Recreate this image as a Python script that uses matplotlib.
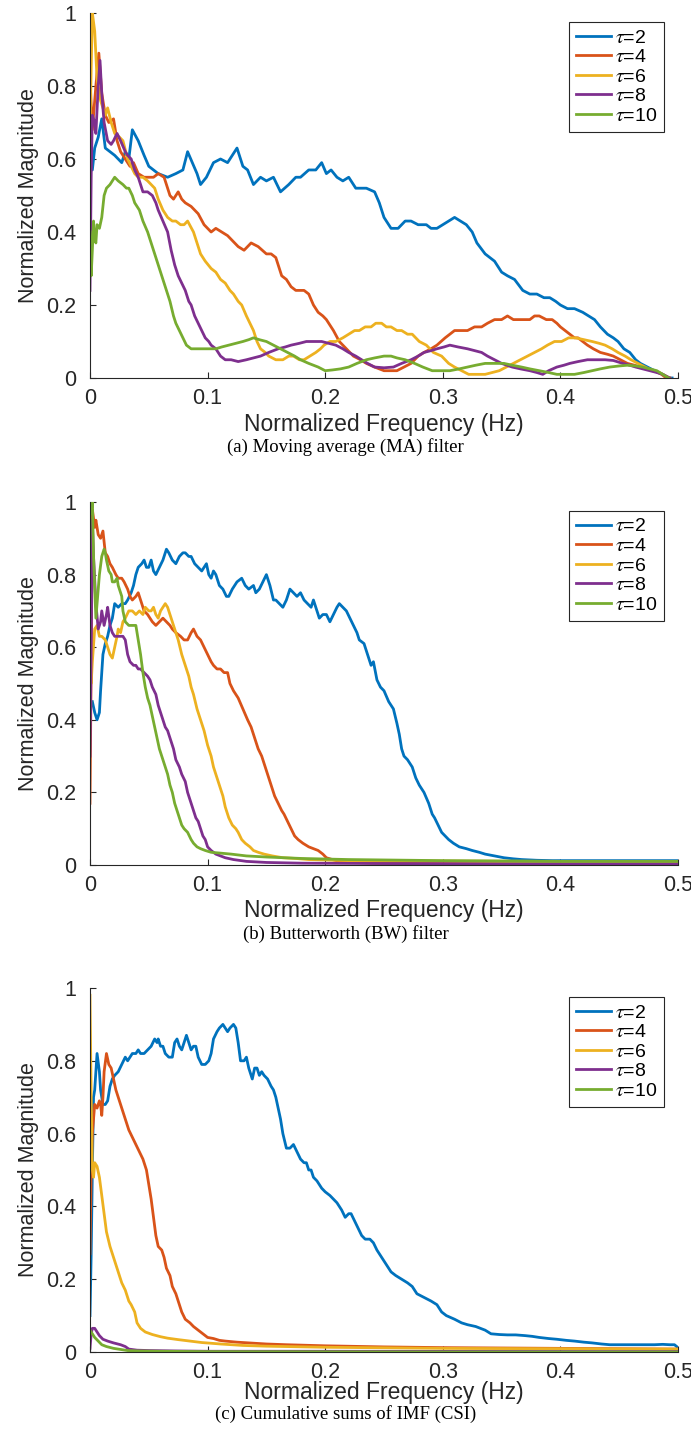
import matplotlib as mpl
import matplotlib.pyplot as plt
from matplotlib.ticker import FuncFormatter, MultipleLocator

mpl.use('Agg')
plt.rcParams.update({
    'font.family': 'Liberation Sans',
    'mathtext.fontset': 'stix',
    'axes.edgecolor': '#262626',
    'xtick.color': '#262626',
    'ytick.color': '#262626',
})

# MATLAB default line colours, one per tau
colors = ["#0072BD", "#D95319", "#EDB120", "#7E2F8E", "#77AC30"]
taus = [2, 4, 6, 8, 10]

# (a) moving average filter: (frequency, magnitude) pairs
ma_t2 = [(0, 0.74), (0.002, 0.57), (0.004, 0.63), (0.007, 0.66), (0.010, 0.71), (0.013, 0.63), (0.017, 0.62),
         (0.021, 0.61), (0.024, 0.60), (0.027, 0.59), (0.030, 0.62), (0.033, 0.60), (0.036, 0.68), (0.041, 0.65),
         (0.046, 0.61), (0.050, 0.58), (0.058, 0.56), (0.066, 0.55), (0.073, 0.56), (0.079, 0.57), (0.083, 0.62),
         (0.087, 0.59), (0.091, 0.56), (0.094, 0.53), (0.099, 0.55), (0.105, 0.59), (0.111, 0.60), (0.117, 0.59),
         (0.121, 0.61), (0.125, 0.63), (0.130, 0.58), (0.134, 0.57), (0.139, 0.53), (0.145, 0.55), (0.150, 0.54),
         (0.156, 0.55), (0.162, 0.51), (0.169, 0.53), (0.175, 0.55), (0.179, 0.55), (0.186, 0.57), (0.192, 0.57),
         (0.197, 0.59), (0.201, 0.56), (0.205, 0.57), (0.210, 0.55), (0.215, 0.54), (0.220, 0.55), (0.226, 0.52),
         (0.231, 0.52), (0.235, 0.52), (0.242, 0.51), (0.246, 0.48), (0.250, 0.44), (0.256, 0.41), (0.262, 0.41),
         (0.268, 0.43), (0.273, 0.43), (0.279, 0.42), (0.286, 0.42), (0.290, 0.41), (0.295, 0.41), (0.300, 0.42),
         (0.305, 0.43), (0.310, 0.44), (0.315, 0.43), (0.320, 0.42), (0.325, 0.40), (0.329, 0.37), (0.336, 0.34),
         (0.344, 0.32), (0.350, 0.29), (0.355, 0.28), (0.361, 0.27), (0.368, 0.24), (0.374, 0.23), (0.380, 0.23),
         (0.386, 0.22), (0.391, 0.22), (0.396, 0.21), (0.400, 0.20), (0.406, 0.19), (0.412, 0.19), (0.419, 0.18),
         (0.424, 0.17), (0.429, 0.16), (0.434, 0.14), (0.440, 0.12), (0.445, 0.11), (0.449, 0.10), (0.454, 0.08),
         (0.459, 0.07), (0.464, 0.05), (0.468, 0.04), (0.474, 0.03), (0.480, 0.02), (0.487, 0.01), (0.492, 0.0),
         (0.495, 0.0)]
ma_t4 = [(0, 0.82), (0.002, 0.68), (0.005, 0.80), (0.0075, 0.89), (0.010, 0.78), (0.013, 0.72), (0.016, 0.70),
         (0.020, 0.71), (0.023, 0.65), (0.026, 0.62), (0.030, 0.60), (0.034, 0.58), (0.037, 0.59), (0.041, 0.56),
         (0.046, 0.55), (0.050, 0.55), (0.054, 0.55), (0.058, 0.56), (0.063, 0.55), (0.068, 0.50), (0.071, 0.49),
         (0.075, 0.51), (0.078, 0.49), (0.081, 0.48), (0.086, 0.47), (0.092, 0.45), (0.097, 0.42), (0.103, 0.40),
         (0.107, 0.41), (0.112, 0.40), (0.117, 0.39), (0.120, 0.38), (0.126, 0.36), (0.131, 0.35), (0.137, 0.37),
         (0.143, 0.36), (0.150, 0.34), (0.154, 0.34), (0.158, 0.33), (0.163, 0.28), (0.167, 0.27), (0.171, 0.25),
         (0.175, 0.24), (0.182, 0.24), (0.186, 0.23), (0.190, 0.20), (0.194, 0.18), (0.198, 0.17), (0.201, 0.16),
         (0.207, 0.13), (0.212, 0.10), (0.218, 0.08), (0.224, 0.06), (0.230, 0.05), (0.235, 0.04), (0.242, 0.03),
         (0.250, 0.02), (0.256, 0.02), (0.261, 0.02), (0.267, 0.03), (0.273, 0.04), (0.279, 0.06), (0.284, 0.07),
         (0.290, 0.08), (0.295, 0.09), (0.302, 0.11), (0.310, 0.13), (0.316, 0.13), (0.321, 0.13), (0.327, 0.14),
         (0.333, 0.14), (0.338, 0.15), (0.344, 0.16), (0.350, 0.16), (0.355, 0.17), (0.360, 0.16), (0.365, 0.16),
         (0.370, 0.16), (0.374, 0.16), (0.378, 0.17), (0.382, 0.17), (0.388, 0.16), (0.393, 0.16), (0.397, 0.15),
         (0.400, 0.14), (0.404, 0.13), (0.408, 0.12), (0.412, 0.11), (0.415, 0.11), (0.419, 0.10), (0.423, 0.09),
         (0.428, 0.08), (0.434, 0.07), (0.440, 0.065), (0.445, 0.06), (0.451, 0.05), (0.457, 0.04), (0.463, 0.035),
         (0.468, 0.03), (0.474, 0.025), (0.480, 0.02), (0.486, 0.01), (0.490, 0.0), (0.493, 0.0)]
ma_t6 = [(0, 0.67), (0.001, 0.85), (0.002, 1.0), (0.004, 0.95), (0.006, 0.82), (0.009, 0.76), (0.013, 0.72),
         (0.015, 0.74), (0.018, 0.70), (0.021, 0.67), (0.025, 0.66), (0.028, 0.65), (0.032, 0.60), (0.035, 0.58),
         (0.038, 0.56), (0.041, 0.55), (0.045, 0.55), (0.049, 0.54), (0.055, 0.52), (0.058, 0.49), (0.062, 0.46),
         (0.066, 0.44), (0.070, 0.43), (0.073, 0.43), (0.077, 0.42), (0.080, 0.42), (0.083, 0.43), (0.088, 0.40),
         (0.091, 0.37), (0.094, 0.34), (0.098, 0.32), (0.103, 0.30), (0.107, 0.29), (0.111, 0.27), (0.115, 0.26),
         (0.119, 0.24), (0.122, 0.23), (0.126, 0.21), (0.129, 0.20), (0.133, 0.17), (0.136, 0.15), (0.139, 0.13),
         (0.142, 0.10), (0.145, 0.08), (0.149, 0.07), (0.152, 0.06), (0.158, 0.05), (0.164, 0.05), (0.169, 0.06),
         (0.173, 0.06), (0.178, 0.05), (0.182, 0.05), (0.187, 0.06), (0.192, 0.07), (0.196, 0.08), (0.199, 0.09),
         (0.204, 0.10), (0.209, 0.10), (0.215, 0.11), (0.220, 0.12), (0.225, 0.13), (0.229, 0.13), (0.234, 0.14),
         (0.239, 0.14), (0.243, 0.15), (0.248, 0.15), (0.252, 0.14), (0.256, 0.14), (0.261, 0.13), (0.265, 0.13),
         (0.270, 0.12), (0.274, 0.12), (0.280, 0.10), (0.286, 0.09), (0.292, 0.07), (0.299, 0.06), (0.305, 0.04),
         (0.310, 0.03), (0.316, 0.02), (0.322, 0.01), (0.330, 0.01), (0.336, 0.01), (0.342, 0.015), (0.348, 0.02),
         (0.354, 0.03), (0.360, 0.04), (0.366, 0.05), (0.372, 0.06), (0.378, 0.07), (0.384, 0.08), (0.389, 0.09),
         (0.395, 0.10), (0.401, 0.10), (0.407, 0.11), (0.413, 0.11), (0.420, 0.105), (0.427, 0.10), (0.433, 0.095),
         (0.438, 0.09), (0.444, 0.08), (0.449, 0.07), (0.455, 0.06), (0.460, 0.05), (0.466, 0.04), (0.472, 0.03),
         (0.478, 0.02), (0.484, 0.015), (0.490, 0.005), (0.493, 0.0)]
ma_t8 = [(0, 0.24), (0.001, 0.55), (0.002, 0.72), (0.004, 0.70), (0.005, 0.67), (0.007, 0.80), (0.0085, 0.87),
         (0.010, 0.78), (0.012, 0.70), (0.015, 0.65), (0.018, 0.64), (0.020, 0.65), (0.023, 0.67), (0.026, 0.65),
         (0.030, 0.62), (0.032, 0.61), (0.035, 0.60), (0.038, 0.57), (0.041, 0.55), (0.045, 0.51), (0.049, 0.51),
         (0.053, 0.50), (0.056, 0.48), (0.058, 0.46), (0.062, 0.43), (0.066, 0.40), (0.069, 0.35), (0.072, 0.31),
         (0.075, 0.28), (0.078, 0.26), (0.081, 0.24), (0.084, 0.21), (0.086, 0.20), (0.089, 0.17), (0.092, 0.15),
         (0.095, 0.13), (0.098, 0.11), (0.101, 0.10), (0.103, 0.09), (0.107, 0.08), (0.111, 0.06), (0.115, 0.05),
         (0.120, 0.05), (0.126, 0.045), (0.133, 0.05), (0.139, 0.055), (0.145, 0.06), (0.152, 0.07), (0.160, 0.08),
         (0.166, 0.085), (0.171, 0.09), (0.178, 0.095), (0.184, 0.10), (0.190, 0.10), (0.197, 0.10), (0.203, 0.095),
         (0.209, 0.09), (0.215, 0.08), (0.220, 0.07), (0.226, 0.06), (0.231, 0.05), (0.236, 0.04), (0.242, 0.03),
         (0.250, 0.028), (0.258, 0.03), (0.265, 0.04), (0.273, 0.05), (0.279, 0.06), (0.284, 0.07), (0.290, 0.075),
         (0.295, 0.08), (0.301, 0.085), (0.306, 0.09), (0.313, 0.085), (0.321, 0.08), (0.327, 0.075), (0.333, 0.07),
         (0.338, 0.06), (0.344, 0.05), (0.350, 0.04), (0.359, 0.03), (0.366, 0.025), (0.374, 0.02), (0.380, 0.015),
         (0.385, 0.01), (0.390, 0.02), (0.397, 0.03), (0.403, 0.035), (0.408, 0.04), (0.415, 0.045), (0.423, 0.05),
         (0.430, 0.05), (0.438, 0.05), (0.445, 0.048), (0.453, 0.04), (0.459, 0.035), (0.464, 0.03), (0.470, 0.025),
         (0.476, 0.02), (0.482, 0.015), (0.487, 0.01), (0.493, 0.0)]
ma_t10 = [(0, 0.40), (0.001, 0.28), (0.002, 0.35), (0.003, 0.43), (0.004, 0.38), (0.005, 0.37), (0.006, 0.42),
          (0.008, 0.41), (0.010, 0.44), (0.012, 0.50), (0.014, 0.52), (0.017, 0.53), (0.019, 0.54), (0.021, 0.55),
          (0.024, 0.54), (0.028, 0.53), (0.031, 0.52), (0.033, 0.52), (0.036, 0.50), (0.038, 0.48), (0.040, 0.47),
          (0.042, 0.46), (0.045, 0.43), (0.049, 0.40), (0.052, 0.37), (0.055, 0.34), (0.058, 0.31), (0.060, 0.29),
          (0.063, 0.26), (0.066, 0.23), (0.068, 0.21), (0.071, 0.17), (0.073, 0.15), (0.076, 0.13), (0.079, 0.11),
          (0.082, 0.09), (0.086, 0.08), (0.091, 0.08), (0.096, 0.08), (0.101, 0.08), (0.107, 0.08), (0.112, 0.085),
          (0.118, 0.09), (0.124, 0.095), (0.130, 0.10), (0.135, 0.105), (0.139, 0.11), (0.144, 0.105), (0.150, 0.10),
          (0.156, 0.09), (0.162, 0.08), (0.168, 0.07), (0.174, 0.06), (0.179, 0.05), (0.186, 0.04), (0.194, 0.03),
          (0.200, 0.02), (0.206, 0.022), (0.213, 0.025), (0.220, 0.03), (0.227, 0.04), (0.235, 0.05), (0.242, 0.055),
          (0.250, 0.06), (0.256, 0.06), (0.261, 0.055), (0.268, 0.05), (0.276, 0.04), (0.283, 0.03), (0.291, 0.02),
          (0.298, 0.02), (0.306, 0.02), (0.314, 0.025), (0.321, 0.03), (0.328, 0.035), (0.336, 0.04), (0.344, 0.04),
          (0.352, 0.04), (0.359, 0.035), (0.367, 0.03), (0.374, 0.025), (0.382, 0.02), (0.390, 0.015), (0.397, 0.01),
          (0.405, 0.01), (0.412, 0.01), (0.420, 0.015), (0.427, 0.02), (0.434, 0.025), (0.442, 0.03), (0.450, 0.033),
          (0.457, 0.035), (0.464, 0.033), (0.470, 0.03), (0.476, 0.025), (0.482, 0.02), (0.487, 0.01), (0.492, 0.0)]

# (b) Butterworth filter
bw_t2 = [(0.002, 0.45), (0.004, 0.42), (0.006, 0.40), (0.008, 0.42), (0.009, 0.48), (0.011, 0.58), (0.013, 0.61),
         (0.015, 0.63), (0.017, 0.66), (0.019, 0.68), (0.021, 0.72), (0.024, 0.71), (0.027, 0.72), (0.030, 0.72),
         (0.032, 0.73), (0.035, 0.75), (0.037, 0.77), (0.039, 0.80), (0.041, 0.82), (0.044, 0.83), (0.046, 0.84),
         (0.048, 0.82), (0.050, 0.82), (0.052, 0.84), (0.054, 0.81), (0.056, 0.80), (0.059, 0.82), (0.062, 0.84),
         (0.065, 0.87), (0.067, 0.86), (0.070, 0.84), (0.073, 0.83), (0.076, 0.85), (0.079, 0.86), (0.081, 0.86),
         (0.084, 0.85), (0.086, 0.85), (0.089, 0.83), (0.092, 0.82), (0.095, 0.81), (0.097, 0.82), (0.099, 0.83),
         (0.101, 0.80), (0.103, 0.79), (0.105, 0.81), (0.107, 0.80), (0.110, 0.77), (0.113, 0.76), (0.116, 0.74),
         (0.118, 0.74), (0.121, 0.76), (0.125, 0.78), (0.129, 0.79), (0.132, 0.77), (0.135, 0.76), (0.139, 0.77),
         (0.141, 0.75), (0.144, 0.76), (0.147, 0.78), (0.150, 0.80), (0.153, 0.77), (0.156, 0.73), (0.158, 0.73),
         (0.161, 0.72), (0.164, 0.71), (0.167, 0.73), (0.170, 0.76), (0.173, 0.75), (0.176, 0.74), (0.179, 0.75),
         (0.182, 0.73), (0.185, 0.72), (0.188, 0.71), (0.190, 0.73), (0.193, 0.70), (0.195, 0.68), (0.198, 0.69),
         (0.201, 0.69), (0.204, 0.67), (0.207, 0.69), (0.210, 0.71), (0.212, 0.72), (0.215, 0.71), (0.218, 0.70),
         (0.221, 0.68), (0.224, 0.66), (0.227, 0.64), (0.229, 0.62), (0.233, 0.61), (0.236, 0.58), (0.239, 0.55),
         (0.241, 0.56), (0.244, 0.51), (0.247, 0.49), (0.250, 0.48), (0.254, 0.45), (0.258, 0.43), (0.261, 0.39),
         (0.263, 0.36), (0.265, 0.32), (0.267, 0.30), (0.270, 0.29), (0.274, 0.27), (0.277, 0.24), (0.280, 0.22),
         (0.284, 0.20), (0.288, 0.17), (0.291, 0.14), (0.293, 0.13), (0.296, 0.11), (0.299, 0.09), (0.302, 0.08),
         (0.305, 0.07), (0.309, 0.06), (0.314, 0.05), (0.320, 0.045), (0.325, 0.04), (0.331, 0.035), (0.336, 0.03),
         (0.344, 0.025), (0.352, 0.02), (0.360, 0.017), (0.367, 0.015), (0.380, 0.013), (0.393, 0.012),
         (0.420, 0.012), (0.450, 0.012), (0.500, 0.012)]
bw_t4 = [(0, 0.17), (0.001, 0.55), (0.002, 0.98), (0.004, 0.93), (0.005, 0.95), (0.007, 0.91), (0.009, 0.90),
         (0.011, 0.92), (0.013, 0.86), (0.015, 0.85), (0.017, 0.83), (0.019, 0.82), (0.022, 0.80), (0.024, 0.79),
         (0.027, 0.79), (0.029, 0.78), (0.032, 0.76), (0.034, 0.74), (0.036, 0.73), (0.039, 0.74), (0.041, 0.75),
         (0.044, 0.72), (0.046, 0.70), (0.049, 0.69), (0.051, 0.68), (0.053, 0.67), (0.056, 0.66), (0.059, 0.67),
         (0.062, 0.68), (0.065, 0.67), (0.068, 0.66), (0.070, 0.65), (0.073, 0.64), (0.077, 0.63), (0.080, 0.62),
         (0.083, 0.62), (0.086, 0.64), (0.088, 0.65), (0.091, 0.63), (0.094, 0.62), (0.097, 0.60), (0.100, 0.58),
         (0.103, 0.56), (0.105, 0.55), (0.108, 0.54), (0.111, 0.54), (0.114, 0.53), (0.117, 0.53), (0.119, 0.50),
         (0.122, 0.48), (0.126, 0.46), (0.130, 0.43), (0.134, 0.40), (0.137, 0.38), (0.140, 0.35), (0.143, 0.32),
         (0.146, 0.30), (0.148, 0.28), (0.151, 0.25), (0.154, 0.22), (0.157, 0.19), (0.160, 0.17), (0.163, 0.15),
         (0.165, 0.14), (0.168, 0.12), (0.171, 0.10), (0.174, 0.08), (0.177, 0.07), (0.181, 0.06), (0.186, 0.05),
         (0.190, 0.045), (0.194, 0.04), (0.198, 0.03), (0.201, 0.02), (0.206, 0.015), (0.212, 0.01), (0.225, 0.007),
         (0.242, 0.005), (0.300, 0.004), (0.400, 0.003), (0.500, 0.003)]
bw_t6 = [(0, 0.57), (0.001, 0.50), (0.002, 0.56), (0.004, 0.65), (0.006, 0.66), (0.008, 0.63), (0.010, 0.63),
         (0.013, 0.62), (0.015, 0.60), (0.017, 0.58), (0.019, 0.57), (0.021, 0.60), (0.023, 0.63), (0.024, 0.65),
         (0.026, 0.64), (0.028, 0.67), (0.030, 0.68), (0.033, 0.70), (0.036, 0.70), (0.039, 0.69), (0.042, 0.70),
         (0.045, 0.69), (0.047, 0.71), (0.050, 0.70), (0.052, 0.70), (0.054, 0.71), (0.056, 0.69), (0.058, 0.68),
         (0.060, 0.70), (0.062, 0.71), (0.064, 0.72), (0.066, 0.71), (0.068, 0.69), (0.070, 0.67), (0.072, 0.65),
         (0.075, 0.62), (0.078, 0.58), (0.081, 0.55), (0.084, 0.52), (0.086, 0.49), (0.088, 0.47), (0.091, 0.43),
         (0.094, 0.40), (0.097, 0.37), (0.100, 0.33), (0.103, 0.30), (0.105, 0.27), (0.107, 0.25), (0.110, 0.22),
         (0.113, 0.19), (0.115, 0.16), (0.118, 0.13), (0.121, 0.11), (0.124, 0.10), (0.126, 0.09), (0.129, 0.07),
         (0.132, 0.06), (0.136, 0.05), (0.139, 0.04), (0.143, 0.035), (0.148, 0.03), (0.155, 0.025), (0.164, 0.02),
         (0.175, 0.018), (0.186, 0.015), (0.220, 0.012), (0.300, 0.011), (0.400, 0.01), (0.500, 0.01)]
bw_t8 = [(0, 0.30), (0.001, 0.60), (0.002, 0.95), (0.003, 0.85), (0.005, 0.72), (0.007, 0.65), (0.009, 0.67),
         (0.010, 0.70), (0.012, 0.66), (0.014, 0.69), (0.015, 0.71), (0.017, 0.66), (0.019, 0.64), (0.021, 0.63),
         (0.023, 0.63), (0.026, 0.63), (0.028, 0.63), (0.030, 0.62), (0.032, 0.58), (0.034, 0.56), (0.037, 0.55),
         (0.039, 0.55), (0.041, 0.54), (0.043, 0.54), (0.046, 0.53), (0.049, 0.52), (0.051, 0.51), (0.053, 0.49),
         (0.056, 0.47), (0.058, 0.44), (0.060, 0.42), (0.062, 0.40), (0.064, 0.38), (0.066, 0.37), (0.068, 0.35),
         (0.071, 0.32), (0.073, 0.29), (0.076, 0.27), (0.078, 0.25), (0.081, 0.23), (0.083, 0.20), (0.086, 0.17),
         (0.088, 0.15), (0.090, 0.13), (0.092, 0.12), (0.094, 0.10), (0.096, 0.08), (0.098, 0.07), (0.100, 0.05),
         (0.103, 0.04), (0.107, 0.03), (0.111, 0.025), (0.115, 0.02), (0.122, 0.015), (0.133, 0.01),
         (0.150, 0.007), (0.180, 0.005), (0.250, 0.004), (0.350, 0.003), (0.500, 0.003)]
bw_t10 = [(0.001, 0.97), (0.002, 1.0), (0.003, 0.85), (0.005, 0.68), (0.007, 0.76), (0.008, 0.80), (0.010, 0.85),
          (0.012, 0.87), (0.013, 0.86), (0.014, 0.84), (0.016, 0.81), (0.018, 0.80), (0.019, 0.78), (0.021, 0.78),
          (0.023, 0.79), (0.024, 0.77), (0.026, 0.75), (0.027, 0.74), (0.028, 0.70), (0.030, 0.67), (0.033, 0.66),
          (0.036, 0.66), (0.039, 0.66), (0.041, 0.62), (0.043, 0.58), (0.045, 0.53), (0.047, 0.49), (0.049, 0.46),
          (0.051, 0.44), (0.053, 0.41), (0.055, 0.38), (0.057, 0.35), (0.059, 0.32), (0.062, 0.29), (0.064, 0.27),
          (0.066, 0.25), (0.068, 0.22), (0.070, 0.20), (0.072, 0.17), (0.074, 0.15), (0.076, 0.13), (0.078, 0.11),
          (0.080, 0.10), (0.083, 0.09), (0.086, 0.07), (0.088, 0.06), (0.091, 0.05), (0.094, 0.045), (0.098, 0.04),
          (0.103, 0.035), (0.110, 0.033), (0.120, 0.03), (0.133, 0.025), (0.150, 0.022), (0.180, 0.018),
          (0.220, 0.015), (0.300, 0.012), (0.400, 0.01), (0.500, 0.01)]

# (c) cumulative sums of IMF
csi_t2 = [(0, 0.10), (0.001, 0.27), (0.002, 0.50), (0.003, 0.70), (0.004, 0.72), (0.006, 0.82), (0.008, 0.77),
          (0.009, 0.72), (0.011, 0.68), (0.013, 0.68), (0.015, 0.69), (0.017, 0.73), (0.019, 0.75), (0.021, 0.76),
          (0.024, 0.77), (0.027, 0.79), (0.030, 0.81), (0.032, 0.80), (0.034, 0.81), (0.036, 0.82), (0.039, 0.82),
          (0.041, 0.83), (0.043, 0.82), (0.046, 0.82), (0.049, 0.83), (0.052, 0.84), (0.055, 0.86), (0.057, 0.85),
          (0.058, 0.86), (0.060, 0.84), (0.062, 0.84), (0.064, 0.82), (0.067, 0.81), (0.070, 0.81), (0.072, 0.85),
          (0.074, 0.86), (0.076, 0.84), (0.078, 0.83), (0.080, 0.85), (0.082, 0.87), (0.084, 0.85), (0.086, 0.83),
          (0.088, 0.84), (0.090, 0.84), (0.092, 0.81), (0.095, 0.79), (0.098, 0.79), (0.101, 0.80), (0.103, 0.82),
          (0.105, 0.86), (0.108, 0.88), (0.110, 0.89), (0.113, 0.90), (0.115, 0.89), (0.117, 0.88), (0.119, 0.89),
          (0.122, 0.90), (0.124, 0.89), (0.126, 0.85), (0.128, 0.80), (0.131, 0.80), (0.133, 0.81), (0.135, 0.78),
          (0.138, 0.75), (0.140, 0.78), (0.142, 0.78), (0.144, 0.76), (0.146, 0.77), (0.148, 0.76), (0.151, 0.75),
          (0.154, 0.73), (0.156, 0.72), (0.158, 0.70), (0.160, 0.67), (0.162, 0.64), (0.164, 0.60), (0.167, 0.56),
          (0.170, 0.56), (0.173, 0.57), (0.176, 0.55), (0.179, 0.53), (0.182, 0.52), (0.184, 0.52), (0.186, 0.50),
          (0.188, 0.50), (0.190, 0.48), (0.193, 0.47), (0.197, 0.45), (0.200, 0.44), (0.204, 0.43), (0.207, 0.42),
          (0.210, 0.41), (0.214, 0.39), (0.217, 0.37), (0.220, 0.38), (0.222, 0.38), (0.225, 0.36), (0.228, 0.34),
          (0.231, 0.32), (0.234, 0.31), (0.238, 0.31), (0.241, 0.30), (0.244, 0.28), (0.248, 0.26), (0.252, 0.24),
          (0.256, 0.22), (0.260, 0.21), (0.265, 0.20), (0.270, 0.19), (0.274, 0.18), (0.278, 0.16), (0.284, 0.15),
          (0.290, 0.14), (0.295, 0.13), (0.299, 0.11), (0.303, 0.10), (0.310, 0.09), (0.316, 0.08), (0.321, 0.075),
          (0.328, 0.07), (0.336, 0.06), (0.341, 0.05), (0.348, 0.048), (0.355, 0.047), (0.362, 0.047),
          (0.370, 0.045), (0.376, 0.043), (0.382, 0.04), (0.390, 0.037), (0.397, 0.035), (0.405, 0.032),
          (0.412, 0.03), (0.420, 0.027), (0.427, 0.025), (0.435, 0.022), (0.442, 0.02), (0.450, 0.02),
          (0.465, 0.02), (0.480, 0.02), (0.487, 0.021), (0.493, 0.02), (0.497, 0.02), (0.500, 0.012)]
csi_t4 = [(0, 0.27), (0.001, 0.50), (0.002, 0.60), (0.004, 0.68), (0.006, 0.67), (0.008, 0.69), (0.009, 0.68),
          (0.010, 0.65), (0.011, 0.70), (0.012, 0.77), (0.014, 0.82), (0.016, 0.79), (0.018, 0.78), (0.020, 0.75),
          (0.022, 0.72), (0.024, 0.70), (0.026, 0.68), (0.028, 0.66), (0.030, 0.64), (0.033, 0.61), (0.036, 0.59),
          (0.039, 0.57), (0.042, 0.55), (0.045, 0.53), (0.048, 0.50), (0.050, 0.46), (0.052, 0.42), (0.054, 0.37),
          (0.056, 0.32), (0.058, 0.29), (0.061, 0.28), (0.063, 0.26), (0.065, 0.23), (0.068, 0.21), (0.070, 0.18),
          (0.073, 0.16), (0.075, 0.14), (0.078, 0.11), (0.081, 0.09), (0.085, 0.08), (0.088, 0.07), (0.092, 0.06),
          (0.096, 0.05), (0.100, 0.04), (0.105, 0.037), (0.110, 0.032), (0.115, 0.03), (0.125, 0.027),
          (0.135, 0.025), (0.150, 0.022), (0.167, 0.02), (0.200, 0.017), (0.250, 0.014), (0.300, 0.012),
          (0.350, 0.011), (0.400, 0.01), (0.450, 0.009), (0.500, 0.008)]
csi_t6 = [(0, 0.98), (0.001, 0.70), (0.002, 0.50), (0.003, 0.48), (0.004, 0.52), (0.006, 0.51), (0.008, 0.48),
          (0.010, 0.43), (0.012, 0.38), (0.014, 0.33), (0.017, 0.29), (0.020, 0.26), (0.024, 0.22), (0.027, 0.19),
          (0.030, 0.17), (0.033, 0.14), (0.035, 0.13), (0.038, 0.11), (0.040, 0.08), (0.043, 0.065), (0.047, 0.055),
          (0.053, 0.048), (0.060, 0.042), (0.066, 0.038), (0.075, 0.034), (0.085, 0.03), (0.095, 0.026),
          (0.111, 0.022), (0.130, 0.018), (0.150, 0.016), (0.200, 0.013), (0.300, 0.01), (0.400, 0.009),
          (0.500, 0.008)]
csi_t8 = [(0, 0.01), (0.001, 0.05), (0.002, 0.065), (0.004, 0.065), (0.006, 0.055), (0.008, 0.045), (0.011, 0.035),
          (0.015, 0.03), (0.020, 0.025), (0.026, 0.02), (0.030, 0.015), (0.033, 0.008), (0.040, 0.005),
          (0.050, 0.004), (0.070, 0.003), (0.100, 0.002), (0.200, 0.002), (0.500, 0.001)]
csi_t10 = [(0, 0.06), (0.002, 0.05), (0.004, 0.04), (0.007, 0.03), (0.010, 0.02), (0.014, 0.015), (0.020, 0.01),
           (0.026, 0.007), (0.032, 0.004), (0.040, 0.003), (0.060, 0.002), (0.100, 0.001), (0.300, 0.0),
           (0.500, 0.0)]

captions = ["(a) Moving average (MA) filter",
            "(b) Butterworth (BW) filter",
            "(c) Cumulative sums of IMF (CSI)"]
panels = [[ma_t2, ma_t4, ma_t6, ma_t8, ma_t10],
          [bw_t2, bw_t4, bw_t6, bw_t8, bw_t10],
          [csi_t2, csi_t4, csi_t6, csi_t8, csi_t10]]

# layout in pixels of the 691x1440 figure: axes (top, bottom), x label and caption centres
W, H = 691, 1440
ax_px = [(13, 378), (502, 865), (988, 1352)]
xlab_px = [424, 911, 1393]
cap_px = [447, 934, 1414]

fig = plt.figure(figsize=(W / 100, H / 100), dpi=100)
fmt = FuncFormatter(lambda v, p: "{:g}".format(round(v, 2)))

for series, caption, (top, bot), xl, cy in zip(panels, captions, ax_px, xlab_px, cap_px):
    ax = fig.add_axes([90 / W, 1 - bot / H, (678 - 90) / W, (bot - top) / H])
    for pts, tau, col in zip(series, taus, colors):
        xs = [p[0] for p in pts]
        ys = [p[1] for p in pts]
        ax.plot(xs, ys, color=col, lw=2.0, label=r"$\tau$=%d" % tau)
    ax.set_xlim(0, 0.5)
    ax.set_ylim(0, 1)
    ax.xaxis.set_major_locator(MultipleLocator(0.1))
    ax.yaxis.set_major_locator(MultipleLocator(0.2))
    ax.xaxis.set_major_formatter(fmt)
    ax.yaxis.set_major_formatter(fmt)
    ax.spines["top"].set_visible(False)
    ax.spines["right"].set_visible(False)
    ax.tick_params(direction="in", length=4, width=0.8, labelsize=15.5)
    ax.tick_params(axis="x", pad=7)
    ax.tick_params(axis="y", pad=10)
    ax.set_xlabel("Normalized Frequency (Hz)", fontsize=16.5, color="#262626", va="center")
    ax.xaxis.set_label_coords(0.5, -(xl - bot) / (bot - top))
    ax.set_ylabel("Normalized Magnitude", fontsize=15.5, labelpad=5, color="#262626")
    leg = ax.legend(loc="upper right", bbox_to_anchor=(0.976, 0.975), borderaxespad=0,
                    fontsize=14, handlelength=1.8, handletextpad=0.2, labelspacing=0.1,
                    borderpad=0.35, fancybox=False, framealpha=1)
    leg.get_frame().set_edgecolor("#262626")
    leg.get_frame().set_linewidth(0.8)
    fig.text(0.5, 1 - cy / H, caption, ha="center", va="center",
             fontsize=13.5, family="Liberation Serif")

fig.savefig("out.png", dpi=100)
